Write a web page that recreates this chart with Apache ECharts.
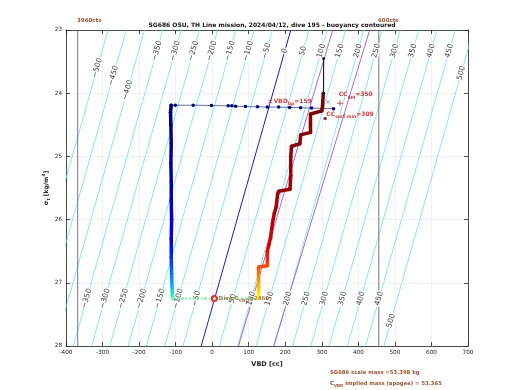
<!DOCTYPE html>
<html><head><meta charset="utf-8">
<script src="https://cdn.jsdelivr.net/npm/echarts@6/dist/echarts.min.js"></script>
<style>html,body{margin:0;padding:0;background:#fff}#c{width:520px;height:390px}</style>
</head><body><div id="c"></div>
<script>
// ---------- data ----------
const contourLevels = [-500,-450,-400,-350,-300,-250,-200,-150,-100,-50,0,50,100,150,200,250,300,350,400,450,500];
const zeroContourTop = 215;      // VBD [cc] of 0 g contour at sigma 23
const zeroContourBottom = -30;   // VBD [cc] of 0 g contour at sigma 28
const sigmaTop = 23, sigmaBottom = 28;
const purpleLine1 = [[330,23],[72,28]];
const purpleLine2 = [[431,23],[168,28]];
const vbdLimits = [-368, 456];
const topLabelLevels = [-500,-450,-400,-350,-300,-250,-200,-150,-100,-50,0,50,100,150,200,250,300,350,400,450,500];
const bottomLabelLevels = [-350,-300,-250,-200,-150,-100,-50,0,50,100,150,200,250,300,350,400,450,500];
const surfaceDive = [[332,24.245],[302,24.24],[272,24.235],[242,24.23],[212,24.225],[182,24.22],[151,24.22],[124,24.215],[91,24.21],[64,24.205],[54,24.2],[44,24.2],[-2,24.195],[-52,24.19],[-101,24.19],[-112,24.19]];
const descent = [[-112,24.19],[-114,24.3],[-113,24.5],[-112,24.8],[-113,25.1],[-112,25.4],[-112,25.7],[-111,26.0],[-112,26.3],[-112,26.6],[-111,26.85],[-110,27.05],[-109,27.2],[-108,27.25]];
const apogee = [[-108,27.25],[-80,27.25],[-50,27.25],[-20,27.25],[10,27.25],[40,27.25],[70,27.25],[100,27.25],[127,27.25]];
const climb = [[127,27.25],[127,27.05],[127,26.75],[151,26.73],[151,26.5],[155,26.4],[160,26.28],[165,26.05],[170,25.9],[175,25.8],[179,25.6],[182,25.55],[213,25.52],[215,25.3],[215,25.0],[217,24.84],[240,24.8],[242,24.66],[269,24.62],[269,24.5],[269,24.33],[300,24.28],[302,24.2],[304,24.0]];
const surfaceEnd = [[305,24.0],[305,23.45]];
const vbdBp = [159, 24.13];
const ccMark = [317, 24.14];
const ccSM = [350, 24.16];
const ccSurfMin = [309, 24.4];
const diveCvbd = [6, 27.25];
const xTicks = [-400,-300,-200,-100,0,100,200,300,400,500,600,700];
const yTicks = [23,24,25,26,27,28];

// ---------- styles ----------
const FONT = 'DejaVu Sans';
const BROWN = '#a0522d';
const contourVBD = (lvl, s) => zeroContourTop + lvl + (zeroContourBottom - zeroContourTop) * (s - sigmaTop) / (sigmaBottom - sigmaTop);
const fmtLvl = v => String(v).replace('-', '\u2212');
const topLabelSigma = {'-500':23.6,'-450':23.72,'-400':23.95,'500':23.68};
const bottomLabelSigma = {'500':27.6};

const series = [];
contourLevels.forEach(l => {
  series.push({type:'line', silent:true, z:1, symbol:'none',
    data:[[contourVBD(l,sigmaTop),sigmaTop],[contourVBD(l,sigmaBottom),sigmaBottom]],
    lineStyle:{color: l===0 ? '#0000c8' : '#4fe0f0', width: l===0 ? 0.9 : 0.7}});
});
[purpleLine1, purpleLine2].forEach(p => series.push({type:'line', silent:true, z:1, symbol:'none', data:p, lineStyle:{color:'#9a3fd0', width:0.8}}));
vbdLimits.forEach(v => series.push({type:'line', silent:true, z:1, symbol:'none', data:[[v,23],[v,28]], lineStyle:{color:'#555', width:0.8}}));

const labelData = [];
topLabelLevels.forEach(l => { const s = topLabelSigma[String(l)] || 23.33; labelData.push([contourVBD(l,s), s, l]); });
bottomLabelLevels.forEach(l => { const s = bottomLabelSigma[String(l)] || 27.25; labelData.push([contourVBD(l,s), s, l]); });
series.push({type:'scatter', silent:true, z:2, symbolSize:0, data:labelData,
  label:{show:true, position:'inside', rotate:74, formatter:p=>fmtLvl(p.value[2]), fontFamily:FONT, fontSize:7.5, color:'#111', backgroundColor:'#fff', padding:[0,1]}});

series.push({type:'line', z:4, data:surfaceDive, symbol:'circle', symbolSize:3.5, lineStyle:{color:'#3a4aa0', width:0.8}, itemStyle:{color:'#00008b'}});
const descentIdx = series.length;
series.push({type:'line', z:4, data:descent, symbol:'circle', symbolSize:3.5, lineStyle:{width:3.5}});
series.push({type:'line', z:4, data:apogee, symbol:'circle', symbolSize:2.5, lineStyle:{color:'#78f5a0', width:2, type:'dotted'}, itemStyle:{color:'#78f5a0'}});
const climbIdx = series.length;
series.push({type:'line', z:5, data:climb, symbol:'circle', symbolSize:3.5, lineStyle:{width:3.5}});
series.push({type:'line', z:5, data:surfaceEnd, symbol:'circle', symbolSize:3, lineStyle:{color:'#000', width:1}, itemStyle:{color:'#222'}});

const rsub = {fontSize:4.5, fontFamily:FONT, verticalAlign:'bottom', lineHeight:10};
series.push({type:'scatter', z:6, data:[vbdBp], symbol:'path://M0,0L10,10M10,0L0,10', symbolSize:4,
  itemStyle:{color:'transparent', borderColor:'#c00', borderWidth:0.8},
  label:{show:true, position:'right', distance:1, formatter:'VBD{s|bp}=159', color:'#e00000', fontFamily:FONT, fontSize:6, fontWeight:'bold', lineHeight:10, rich:{s:Object.assign({color:'#e00000', fontWeight:'bold'}, rsub)}}});
series.push({type:'scatter', z:6, data:[ccMark], symbol:'path://M0,0L10,10M10,0L0,10', symbolSize:4,
  itemStyle:{color:'transparent', borderColor:'#777', borderWidth:0.8}});
series.push({type:'scatter', z:6, data:[ccSM], symbol:'path://M5,0L5,10M0,5L10,5', symbolSize:6,
  itemStyle:{color:'transparent', borderColor:'#e00000', borderWidth:0.8},
  label:{show:true, position:[2,0], align:'left', verticalAlign:'bottom', formatter:'CC{s|SM}=350', color:'#e00000', fontFamily:FONT, fontSize:6, fontWeight:'bold', lineHeight:10, rich:{s:Object.assign({color:'#e00000', fontWeight:'bold'}, rsub)}}});
series.push({type:'scatter', z:6, data:[ccSurfMin], symbol:'circle', symbolSize:3.5,
  itemStyle:{color:'#700000'},
  label:{show:true, position:[3,3], align:'left', verticalAlign:'bottom', formatter:'CC{s|surf min}=309', color:'#e00000', fontFamily:FONT, fontSize:6, fontWeight:'bold', lineHeight:10, rich:{s:Object.assign({color:'#e00000', fontWeight:'bold'}, rsub)}}});
series.push({type:'scatter', z:6, data:[diveCvbd], symbol:'emptyCircle', symbolSize:5,
  itemStyle:{color:'#e00000', borderWidth:1},
  label:{show:true, position:'right', distance:1, formatter:'Dive C{s|VBD}=2460', color:BROWN, fontFamily:FONT, fontSize:5.5, fontWeight:'bold', lineHeight:10, rich:{s:Object.assign({color:BROWN, fontWeight:'bold'}, rsub)}}});

const axisCommon = {axisLine:{show:true, onZero:false, lineStyle:{color:'#222', width:0.8}}, axisTick:{show:true, inside:true, length:4, lineStyle:{color:'#222', width:0.8}}};
const option = {
  animation:false,
  backgroundColor:'#fff',
  title:{text:'SG686 OSU, TH Line mission, 2024/04/12, dive 195 - buoyancy contoured', left:267, top:17, textAlign:'center',
    textStyle:{fontFamily:FONT, fontSize:6, fontWeight:'bold', color:'#111'}},
  grid:{left:66, right:52, top:30, bottom:44},
  xAxis:[
    Object.assign({type:'value', min:xTicks[0], max:xTicks[xTicks.length-1], interval:100, position:'bottom',
      name:'VBD [cc]', nameLocation:'middle', nameGap:13, nameTextStyle:{fontFamily:FONT, fontSize:6.5, fontWeight:'bold', color:'#222'},
      axisLabel:{fontFamily:FONT, fontSize:5.7, color:'#222', margin:4},
      splitLine:{show:true, lineStyle:{color:'#e8e8e8', width:0.6}}}, axisCommon),
    Object.assign({type:'value', min:xTicks[0], max:xTicks[xTicks.length-1], interval:100, position:'top', axisLabel:{show:false}, splitLine:{show:false}}, axisCommon)
  ],
  yAxis:[
    Object.assign({type:'value', min:yTicks[0], max:yTicks[yTicks.length-1], interval:1, inverse:true, position:'left',
      name:'{b|\u03c3}{s|t} [kg/m{p|3}]', nameLocation:'middle', nameGap:15, nameRotate:90, nameMoveOverlap:false,
      nameTextStyle:{fontFamily:FONT, fontSize:6, fontWeight:'bold', color:'#222', lineHeight:10,
        rich:{b:{fontFamily:FONT, fontSize:6, fontWeight:'bold', lineHeight:10}, s:{fontFamily:FONT, fontSize:4.5, verticalAlign:'bottom', lineHeight:10}, p:{fontFamily:FONT, fontSize:4.5, verticalAlign:'top', lineHeight:10}}},
      axisLabel:{fontFamily:FONT, fontSize:5.7, color:'#222', margin:4},
      splitLine:{show:true, lineStyle:{color:'#e8e8e8', width:0.6}}}, axisCommon),
    Object.assign({type:'value', min:yTicks[0], max:yTicks[yTicks.length-1], interval:1, inverse:true, position:'right', axisLabel:{show:false}, splitLine:{show:false}}, axisCommon)
  ],
  visualMap:[
    {type:'continuous', show:false, seriesIndex:descentIdx, dimension:1, min:24.19, max:27.25,
      inRange:{color:['#000080','#000088','#000090','#000098','#0000a0','#0000b0','#0000c4','#0000d8','#0000ee','#0010ff','#0050ff','#00a0ff','#40ffc0']}},
    {type:'continuous', show:false, seriesIndex:climbIdx, dimension:1, min:24.0, max:27.25,
      inRange:{color:['#7a0000','#800000','#880000','#900000','#980000','#a00000','#a80000','#b40000','#c80000','#e00000','#ff4000','#ffa000','#ffff00']}}
  ],
  graphic:[
    {type:'text', left:77, top:18, style:{text:'3960cts', fill:BROWN, font:'bold 5.5px "DejaVu Sans"'}},
    {type:'text', left:378, top:18, style:{text:'600cts', fill:BROWN, font:'bold 5.5px "DejaVu Sans"'}},
    {type:'text', left:330, top:370, style:{text:'SG686 scale mass =53.398 kg', fill:BROWN, font:'bold 5.3px "DejaVu Sans"'}},
    {type:'text', left:330, top:381, style:{text:'C{s|VBD} implied mass (apogee) = 53.365', fill:BROWN, font:'bold 5.3px "DejaVu Sans"',
      rich:{s:{fontSize:4, fontFamily:FONT, fontWeight:'bold', fill:BROWN, verticalAlign:'bottom', lineHeight:9}}}}
  ],
  series
};
const chart = echarts.init(document.getElementById('c'), null, {renderer:'canvas'});
chart.setOption(option);
</script>
</body></html>
